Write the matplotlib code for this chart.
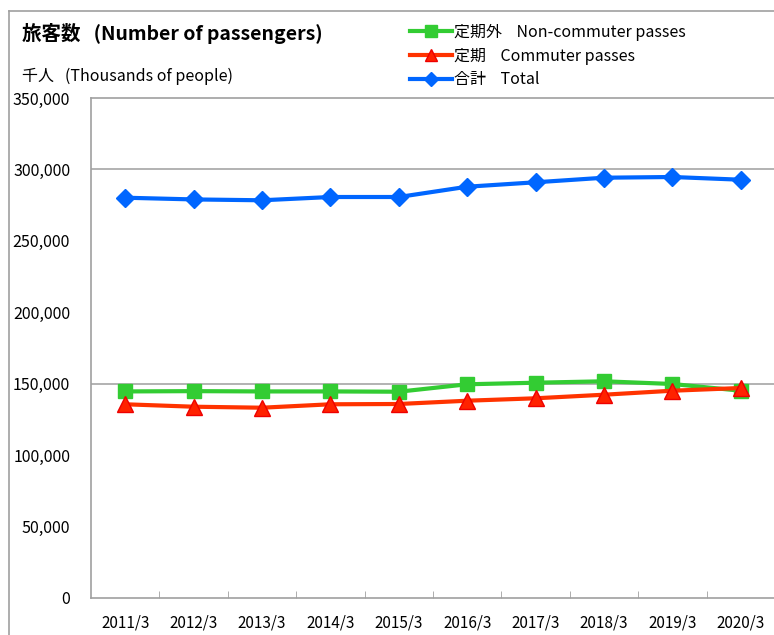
import matplotlib
matplotlib.use("Agg")
import matplotlib.pyplot as plt
from matplotlib.ticker import FuncFormatter
import numpy as np

plt.rcParams['font.family'] = ['Noto Sans CJK JP', 'DejaVu Sans']

# --- data (thousands of people) ---
years = ["2011/3", "2012/3", "2013/3", "2014/3", "2015/3",
         "2016/3", "2017/3", "2018/3", "2019/3", "2020/3"]
non_commuter = [144.6, 144.8, 144.6, 144.6, 144.4, 149.6, 150.7, 151.7, 149.8, 145.1]
commuter = [135.6, 133.9, 133.2, 135.6, 135.8, 138.1, 139.8, 142.3, 145.1, 147.0]
total = [280.2, 279.0, 278.4, 280.7, 280.7, 287.9, 291.0, 294.2, 294.7, 292.8]

non_commuter = np.array(non_commuter) * 1000
commuter = np.array(commuter) * 1000
total = np.array(total) * 1000

fig = plt.figure(figsize=(7.74, 6.35), dpi=100)

# outer chart border: a frameless background axes with only top/left spines
bg = fig.add_axes([8.5 / 774, 0, 1 - 8.5 / 774, 1 - 10.5 / 635])
bg.set_xticks([])
bg.set_yticks([])
bg.patch.set_visible(False)
for s in ('right', 'bottom'):
    bg.spines[s].set_visible(False)
for s in ('left', 'top'):
    bg.spines[s].set_color('#a0a0a0')
    bg.spines[s].set_linewidth(1.2)

ax = fig.add_axes([91 / 774, 1 - 598 / 635, 684 / 774, 500 / 635])

x = np.arange(len(years))
ax.plot(x, non_commuter, color='#33cc33', lw=3, marker='s', ms=10,
        mfc='#33cc33', mec='#33cc33', label='定期外    Non-commuter passes', zorder=3)
ax.plot(x, commuter, color='#ff3300', lw=3, marker='^', ms=11,
        mfc='#ff2200', mec='#ee0000', label='定期    Commuter passes', zorder=4)
ax.plot(x, total, color='#0066ff', lw=3, marker='D', ms=9,
        mfc='#0066ff', mec='#0066ff', label='合計    Total', zorder=3)

ax.set_xlim(-0.5, len(years) - 0.5)
ax.set_ylim(0, 350000)
ax.set_yticks(np.arange(0, 350001, 50000))
ax.yaxis.set_major_formatter(FuncFormatter(lambda v, p: f"{int(v):,}"))
ax.tick_params(axis='y', length=0, labelsize=11.5, pad=15)
ax.set_xticks(x)
ax.set_xticklabels(years)
ax.tick_params(axis='x', length=0, labelsize=11, pad=12)
ax.set_xticks(np.arange(0.5, len(years) - 0.5, 1), minor=True)
ax.tick_params(axis='x', which='minor', direction='in', length=5, color='#a0a0a0')

for yv in (150000, 300000):
    ax.axhline(yv, color='#a6a6a6', lw=1.2, zorder=1)

for s in ('left', 'top', 'bottom'):
    ax.spines[s].set_color('#a0a0a0')
    ax.spines[s].set_linewidth(1.2)
ax.spines['right'].set_visible(False)

fig.text(22 / 774, 1 - 33 / 635, '旅客数   (Number of passengers)', fontsize=14,
         fontweight='bold', va='center', ha='left')
fig.text(22 / 774, 1 - 76 / 635, '千人   (Thousands of people)', fontsize=11.5,
         va='center', ha='left')

fig.legend(loc='upper left', bbox_to_anchor=(410 / 774, 1 - 24 / 635), frameon=False,
           handlelength=2.6, handletextpad=0.15, labelspacing=0.42, fontsize=11.5,
           markerscale=0.8, borderaxespad=0, borderpad=0)

fig.savefig('out.png', dpi=100)
